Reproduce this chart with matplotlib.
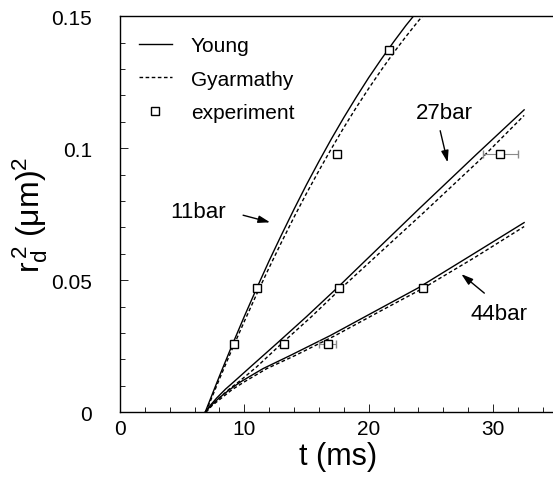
import numpy as np
import matplotlib
matplotlib.use('agg')
import matplotlib.pyplot as plt

plt.rcParams['font.family'] = ['Liberation Sans', 'DejaVu Sans']
plt.rcParams['mathtext.fontset'] = 'custom'
plt.rcParams['mathtext.rm'] = 'Liberation Sans'
plt.rcParams['mathtext.it'] = 'Liberation Sans'

#*********************************** DATA **************************************
# 11 bar
t_young_11 = [6.85, 8, 9, 10, 11, 12, 13, 14, 15, 16, 17, 18, 19, 20, 21, 22, 23, 24]
r_young_11 = [0.0, 0.0137, 0.0252, 0.0363, 0.0470, 0.0574, 0.0673, 0.0769, 0.0862,
              0.0950, 0.1035, 0.1116, 0.1193, 0.1267, 0.1336, 0.1402, 0.1465, 0.1523]
t_gyar_11 = [6.9, 8, 9, 10, 11, 12, 13, 14, 15, 16, 17, 18, 19, 20, 21, 22, 23, 24, 25]
r_gyar_11 = [0.0, 0.0126, 0.0237, 0.0344, 0.0448, 0.0548, 0.0645, 0.0739, 0.0829, 0.0915,
             0.0998, 0.1078, 0.1154, 0.1226, 0.1295, 0.1361, 0.1423, 0.1482, 0.1537]

# 27 bar
t_young_27 = [6.85, 7.3, 7.8, 8.5, 9.2, 10.5, 12.6, 15.0, 17.45, 19.6, 24.0, 28.7, 32.5]
r_young_27 = [0.0, 0.0028, 0.0055, 0.0088, 0.0117, 0.0172, 0.026, 0.0362, 0.047, 0.0568,
              0.0768, 0.0978, 0.1145]
t_gyar_27 = [6.9, 7.4, 8.0, 8.8, 9.6, 11.0, 13.0, 15.4, 17.8, 20.0, 24.4, 29.0, 32.5]
r_gyar_27 = [0.0, 0.0027, 0.0055, 0.0088, 0.0117, 0.0172, 0.026, 0.0362, 0.047, 0.0565,
             0.0755, 0.0958, 0.1124]

# 44 bar
t_young_44 = [6.85, 7.3, 8.0, 8.8, 9.7, 11.5, 13.7, 16.9, 20.5, 23.95, 28.2, 32.5]
r_young_44 = [0.0, 0.0025, 0.0055, 0.0085, 0.0115, 0.0165, 0.0215, 0.029, 0.0382, 0.047,
              0.0593, 0.0718]
t_gyar_44 = [6.9, 7.4, 8.2, 9.0, 10.0, 11.8, 14.1, 17.3, 20.9, 24.4, 28.6, 32.5]
r_gyar_44 = [0.0, 0.0025, 0.0055, 0.0085, 0.0115, 0.0165, 0.0215, 0.029, 0.0382, 0.047,
             0.0588, 0.0703]

# experiment
t_exp = [9.2, 11.0, 17.45, 21.6, 13.2, 17.6, 30.6, 16.7, 24.4]
r_exp = [0.0258, 0.047, 0.0977, 0.137, 0.0258, 0.047, 0.0977, 0.0258, 0.047]
t_err = [0, 0, 0, 0, 0, 0, 1.4, 0.7, 0]

#*********************************** PLOT **************************************
fig = plt.figure(figsize=(5.53, 4.89), dpi=100)
ax = fig.add_axes([0.217, 0.155, 0.787, 0.81])

dash = (2.6, 1.8)
for t, r in [(t_young_11, r_young_11), (t_young_27, r_young_27), (t_young_44, r_young_44)]:
    ax.plot(t, r, color='black', lw=1.0)
for t, r in [(t_gyar_11, r_gyar_11), (t_gyar_27, r_gyar_27), (t_gyar_44, r_gyar_44)]:
    ax.plot(t, r, color='black', lw=1.0, dashes=dash)

ax.errorbar(t_exp, r_exp, xerr=t_err, fmt='none', ecolor='#8a8a8a', elinewidth=0.8, capsize=3)
ax.plot(t_exp, r_exp, 's', mfc='white', mec='black', mew=1.0, ms=6)

# legend
h1, = ax.plot([], [], color='black', lw=1.0)
h2, = ax.plot([], [], color='black', lw=1.0, dashes=dash)
h3, = ax.plot([], [], 's', mfc='white', mec='black', mew=1.0, ms=6)
ax.legend([h1, h2, h3], ['Young', 'Gyarmathy', 'experiment'], loc='upper left',
          bbox_to_anchor=(0.0, 0.997), frameon=False, fontsize=15,
          handlelength=1.6, handletextpad=0.9, labelspacing=0.7)

# annotations
arrow = dict(arrowstyle='-|>,head_length=0.7,head_width=0.22', color='black', lw=1.0,
             mutation_scale=10, shrinkA=0, shrinkB=0)
ax.text(6.3, 0.0761, '11bar', fontsize=16, ha='center', va='center')
ax.annotate('', xy=(12.07, 0.0719), xytext=(9.9, 0.0746), arrowprops=arrow)
ax.text(26.1, 0.1136, '27bar', fontsize=16, ha='center', va='center')
ax.annotate('', xy=(26.35, 0.0946), xytext=(25.75, 0.1066), arrowprops=arrow)
ax.text(30.5, 0.0375, '44bar', fontsize=16, ha='center', va='center')
ax.annotate('', xy=(27.45, 0.0523), xytext=(29.3, 0.0451), arrowprops=arrow)

ax.set_xlim(0, 35)
ax.set_ylim(0, 0.15)
ax.set_xticks([0, 10, 20, 30])
ax.set_xticks(np.arange(0, 35, 2), minor=True)
ax.set_yticks([0, 0.05, 0.1, 0.15])
ax.set_yticklabels(['0', '0.05', '0.1', '0.15'])
ax.set_yticks(np.arange(0, 0.151, 0.01), minor=True)
ax.tick_params(which='both', direction='in', width=0.6)
ax.tick_params(which='major', length=6)
ax.tick_params(which='minor', length=3.5)
ax.tick_params(axis='x', labelsize=15, pad=5)
ax.tick_params(axis='y', labelsize=15, pad=20)
ax.spines['right'].set_visible(False)
for s in ['left', 'bottom', 'top']:
    ax.spines[s].set_linewidth(1.0)

ax.set_xlabel('t (ms)', fontsize=22, labelpad=2)
ax.set_ylabel(r'$\mathregular{r_d^{\,2}}$ (μm)$^2$', fontsize=23)
ax.yaxis.set_label_coords(-0.16, 0.5)

plt.savefig('out.png', dpi=100)
